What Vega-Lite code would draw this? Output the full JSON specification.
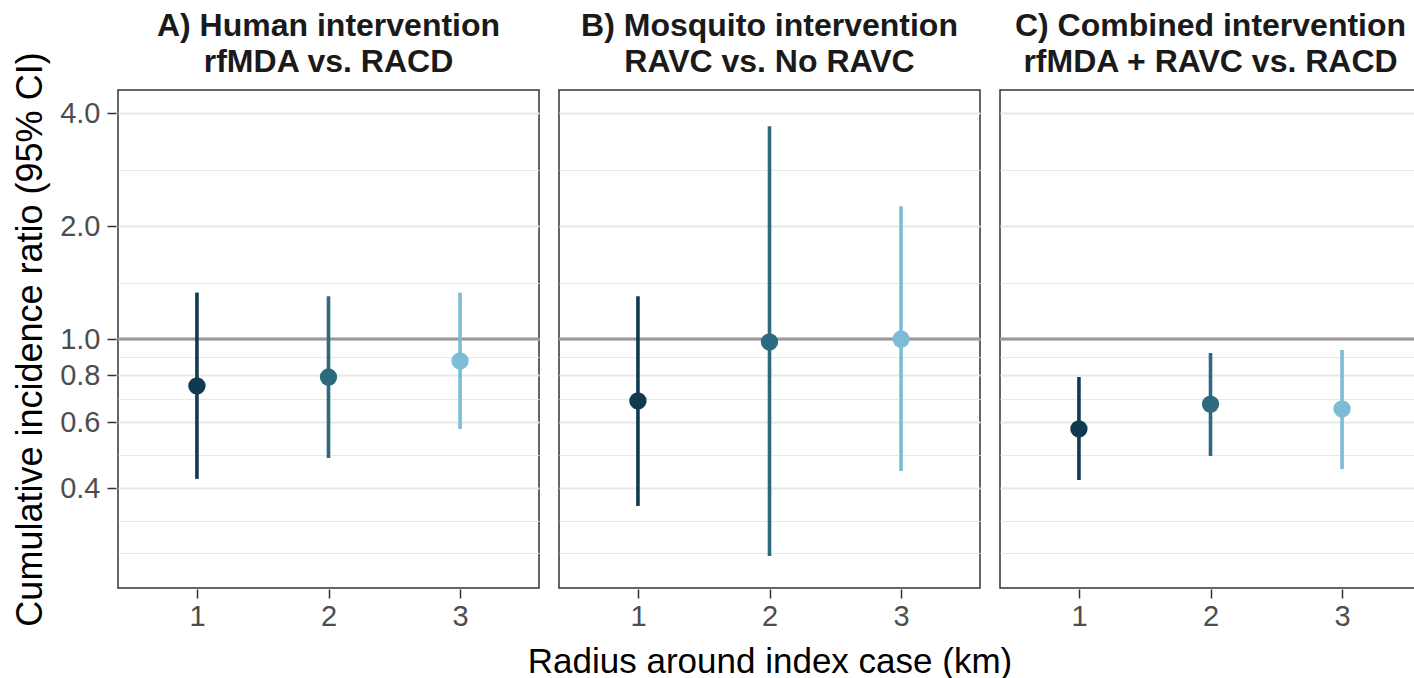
{
  "$schema": "https://vega.github.io/schema/vega-lite/v6.json",
  "padding": {"left": 12, "top": 10, "right": 1, "bottom": 2},
  "config": {
    "font": "Liberation Sans",
    "view": {"stroke": "#333333", "strokeWidth": 1.5},
    "axis": {"labelFont": "Liberation Sans", "titleFont": "Liberation Sans"}
  },
  "data": {
    "values": [
      {"panel": "A) Human intervention|rfMDA vs. RACD", "radius": "1", "est": 0.75, "lo": 0.424, "hi": 1.33},
      {"panel": "A) Human intervention|rfMDA vs. RACD", "radius": "2", "est": 0.792, "lo": 0.482, "hi": 1.30},
      {"panel": "A) Human intervention|rfMDA vs. RACD", "radius": "3", "est": 0.874, "lo": 0.576, "hi": 1.33},
      {"panel": "B) Mosquito intervention|RAVC vs. No RAVC", "radius": "1", "est": 0.684, "lo": 0.359, "hi": 1.30},
      {"panel": "B) Mosquito intervention|RAVC vs. No RAVC", "radius": "2", "est": 0.982, "lo": 0.264, "hi": 3.69},
      {"panel": "B) Mosquito intervention|RAVC vs. No RAVC", "radius": "3", "est": 1.0, "lo": 0.445, "hi": 2.26},
      {"panel": "C) Combined intervention|rfMDA + RAVC vs. RACD", "radius": "1", "est": 0.576, "lo": 0.421, "hi": 0.792},
      {"panel": "C) Combined intervention|rfMDA + RAVC vs. RACD", "radius": "2", "est": 0.671, "lo": 0.488, "hi": 0.918},
      {"panel": "C) Combined intervention|rfMDA + RAVC vs. RACD", "radius": "3", "est": 0.651, "lo": 0.450, "hi": 0.935}
    ]
  },
  "spacing": 16,
  "facet": {
    "column": {
      "field": "panel",
      "type": "nominal",
      "title": "Radius around index case (km)",
      "header": {
        "titleOrient": "bottom",
        "labelOrient": "top",
        "titleFont": "Liberation Sans",
        "titleFontSize": 35,
        "titleFontWeight": "normal",
        "titleColor": "#000000",
        "titlePadding": 4,
        "labelExpr": "split(datum.value, '|')",
        "labelFont": "Liberation Sans",
        "labelFontWeight": "bold",
        "labelFontSize": 32,
        "labelColor": "#1a1a1a",
        "labelLineHeight": 36,
        "labelPadding": 10
      }
    }
  },
  "spec": {
    "width": 421,
    "height": 498,
    "layer": [
      {
        "mark": {"type": "rule", "color": "#9a9a9a", "strokeWidth": 2.5},
        "encoding": {"y": {"datum": 1, "type": "quantitative"}}
      },
      {
        "mark": {"type": "rule", "strokeWidth": 3.6},
        "encoding": {
          "x": {
            "field": "radius",
            "type": "ordinal",
            "scale": {"type": "point", "padding": 0.6},
            "axis": {
              "title": null,
              "labelAngle": 0,
              "labelFontSize": 29,
              "labelColor": "#4d4d4d",
              "labelPadding": 4,
              "tickColor": "#333333",
              "tickWidth": 1.5,
              "tickSize": 9,
              "domain": false,
              "grid": false
            }
          },
          "y": {
            "field": "lo",
            "type": "quantitative",
            "scale": {"type": "log", "domain": [0.217, 4.61], "nice": false, "zero": false},
            "axis": {
              "title": "Cumulative incidence ratio (95% CI)",
              "titleFontSize": 36,
              "titleFontWeight": "normal",
              "titleColor": "#000000",
              "titlePadding": 10,
              "values": [0.269, 0.327, 0.4, 0.49, 0.6, 0.693, 0.8, 0.894, 1, 1.414, 2, 2.83, 4],
              "labelExpr": "indexof([0.4, 0.6, 0.8, 1, 2, 4], datum.value) >= 0 ? format(datum.value, '.1f') : ''",
              "labelFontSize": 29,
              "labelColor": "#4d4d4d",
              "labelPadding": 7,
              "tickColor": "#333333",
              "tickWidth": 1.5,
              "tickSize": 9,
              "tickOpacity": {"condition": {"test": "indexof([0.4, 0.6, 0.8, 1, 2, 4], datum.value) >= 0", "value": 1}, "value": 0},
              "domain": false,
              "grid": true,
              "gridColor": "#e8e8e8",
              "gridWidth": {"condition": {"test": "indexof([0.4, 0.6, 0.8, 1, 2, 4], datum.value) >= 0", "value": 2}, "value": 1.1}
            }
          },
          "y2": {"field": "hi"},
          "color": {
            "field": "radius",
            "type": "nominal",
            "scale": {"domain": ["1", "2", "3"], "range": ["#0f3a4f", "#2e6a7e", "#7cbcd5"]},
            "legend": null
          }
        }
      },
      {
        "mark": {"type": "point", "filled": true, "opacity": 1, "size": 300},
        "encoding": {
          "x": {"field": "radius", "type": "ordinal"},
          "y": {"field": "est", "type": "quantitative"},
          "color": {"field": "radius", "type": "nominal", "legend": null}
        }
      }
    ]
  }
}
